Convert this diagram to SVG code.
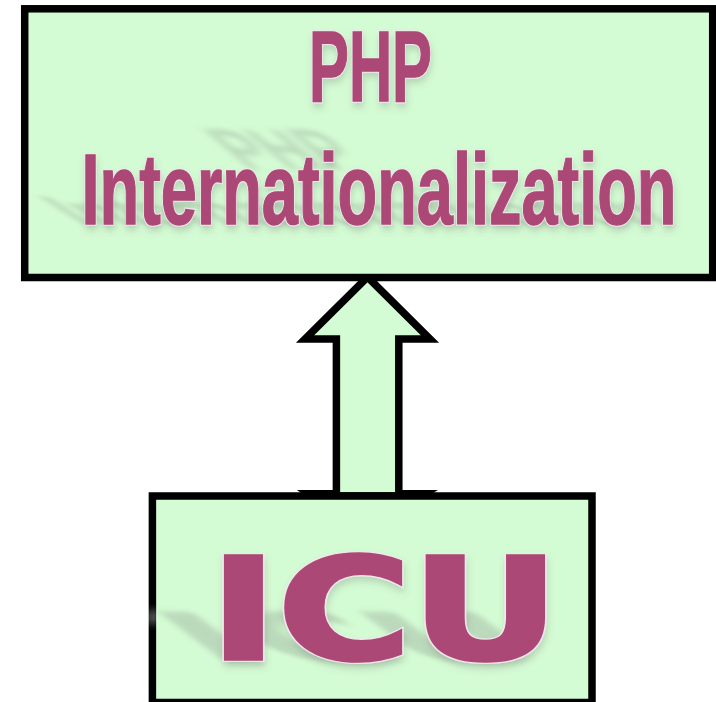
<svg xmlns="http://www.w3.org/2000/svg" xmlns:xlink="http://www.w3.org/1999/xlink" width="716" height="702" viewBox="0 0 716 702">
  <style>
    .box { fill: #d4fcd4; stroke: #000; stroke-width: 7.5; }
    .arrow { fill: #d4fcd4; stroke: #000; stroke-width: 7.5; stroke-linejoin: miter; stroke-miterlimit: 10; }
    .halo { fill: #f3e6ee; stroke: #f3e6ee; stroke-width: 3.5; filter: url(#soft); }
    .label { fill: #ab4876; stroke: #ab4876; stroke-width: 1.4; }
    .halo-icu { fill: #f3e6ee; stroke: #f3e6ee; stroke-width: 6; filter: url(#soft); }
    .label-icu { fill: #ab4876; stroke: #ab4876; stroke-width: 3.6; stroke-linejoin: miter; }
    .php { font-family: "Liberation Sans", Arial, sans-serif; font-weight: 700; font-size: 101px; }
    .icu { font-family: "DejaVu Sans", Verdana, sans-serif; font-weight: 700; font-size: 140px; }
    .cast { fill: #6f6f6f; opacity: 0.24; filter: url(#blur); }
  </style>
  <defs>
    <filter id="blur" x="-20%" y="-40%" width="140%" height="180%"><feGaussianBlur stdDeviation="5"/></filter>
    <filter id="soft" x="-5%" y="-15%" width="110%" height="130%"><feDropShadow dx="1" dy="5" stdDeviation="3.5" flood-color="#555" flood-opacity="0.22"/></filter>
    <text id="t-php" class="php" x="309" y="101.2" textLength="123" lengthAdjust="spacingAndGlyphs">PHP</text>
    <text id="t-intl" class="php" x="81.5" y="223.5" textLength="595" lengthAdjust="spacingAndGlyphs">Internationalization</text>
    <text id="t-icu" class="icu" x="209.5" y="659" textLength="350" lengthAdjust="spacingAndGlyphs">ICU</text>
  </defs>
  <g id="connectors">
    <path id="foot" d="M297 490 H438 L433 493 H301 Z" fill="#000"/>
    <path id="arrow" class="arrow" d="M367.5 277 L430 339 H398.8 V496 H336.4 V339 H305 Z"/>
  </g>
  <g id="node-php">
    <rect class="box" x="24.7" y="8.8" width="688" height="268.7"/>
    <use href="#t-php" class="cast" transform="matrix(1 0 0.67 0.57 -130 112)"/>
    <use href="#t-intl" class="cast" transform="matrix(1 0 0.66 0.42 -148 132)"/>
    <use href="#t-php" class="halo"/>
    <use href="#t-php" class="label"/>
    <use href="#t-intl" class="halo"/>
    <use href="#t-intl" class="label"/>
  </g>
  <g id="node-icu">
    <rect class="box" x="152.4" y="496" width="439.6" height="206.5"/>
    <use href="#t-icu" class="cast" transform="matrix(1 0 0.66 0.5 -436 333)"/>
    <ellipse cx="153" cy="617" rx="3" ry="7" fill="#fff" opacity="0.8" filter="url(#blur)"/>
    <use href="#t-icu" class="halo-icu"/>
    <use href="#t-icu" class="label-icu"/>
  </g>
</svg>
